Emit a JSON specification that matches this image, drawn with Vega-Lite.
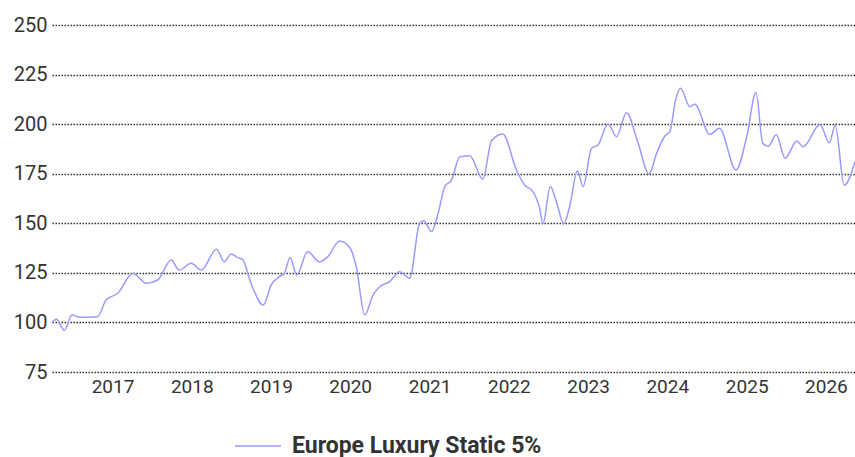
{
  "$schema": "https://vega.github.io/schema/vega-lite/v6.json",
  "width": 803,
  "height": 347,
  "autosize": {"type": "none"},
  "padding": {"left": 52, "top": 25, "right": 0, "bottom": 85},
  "background": "#ffffff",
  "config": {
    "view": {"stroke": null},
    "font": "Roboto"
  },
  "data": {
    "values": [
      {"date": "2016-03-28", "value": 100.0, "series": "Europe Luxury Static 5%"},
      {"date": "2016-04-18", "value": 101.6, "series": "Europe Luxury Static 5%"},
      {"date": "2016-05-24", "value": 96.0, "series": "Europe Luxury Static 5%"},
      {"date": "2016-06-28", "value": 103.8, "series": "Europe Luxury Static 5%"},
      {"date": "2016-08-01", "value": 102.6, "series": "Europe Luxury Static 5%"},
      {"date": "2016-10-24", "value": 102.9, "series": "Europe Luxury Static 5%"},
      {"date": "2016-12-02", "value": 111.3, "series": "Europe Luxury Static 5%"},
      {"date": "2017-01-25", "value": 114.7, "series": "Europe Luxury Static 5%"},
      {"date": "2017-04-05", "value": 124.8, "series": "Europe Luxury Static 5%"},
      {"date": "2017-06-05", "value": 119.8, "series": "Europe Luxury Static 5%"},
      {"date": "2017-07-28", "value": 121.4, "series": "Europe Luxury Static 5%"},
      {"date": "2017-09-28", "value": 131.5, "series": "Europe Luxury Static 5%"},
      {"date": "2017-11-04", "value": 126.4, "series": "Europe Luxury Static 5%"},
      {"date": "2017-12-29", "value": 129.8, "series": "Europe Luxury Static 5%"},
      {"date": "2018-02-14", "value": 126.4, "series": "Europe Luxury Static 5%"},
      {"date": "2018-04-25", "value": 136.9, "series": "Europe Luxury Static 5%"},
      {"date": "2018-05-31", "value": 130.6, "series": "Europe Luxury Static 5%"},
      {"date": "2018-07-01", "value": 134.5, "series": "Europe Luxury Static 5%"},
      {"date": "2018-07-31", "value": 132.7, "series": "Europe Luxury Static 5%"},
      {"date": "2018-08-23", "value": 131.8, "series": "Europe Luxury Static 5%"},
      {"date": "2018-10-01", "value": 119.7, "series": "Europe Luxury Static 5%"},
      {"date": "2018-11-27", "value": 108.8, "series": "Europe Luxury Static 5%"},
      {"date": "2019-01-02", "value": 118.9, "series": "Europe Luxury Static 5%"},
      {"date": "2019-02-09", "value": 123.1, "series": "Europe Luxury Static 5%"},
      {"date": "2019-03-04", "value": 124.8, "series": "Europe Luxury Static 5%"},
      {"date": "2019-03-30", "value": 132.7, "series": "Europe Luxury Static 5%"},
      {"date": "2019-04-30", "value": 123.9, "series": "Europe Luxury Static 5%"},
      {"date": "2019-06-19", "value": 135.7, "series": "Europe Luxury Static 5%"},
      {"date": "2019-08-12", "value": 130.6, "series": "Europe Luxury Static 5%"},
      {"date": "2019-09-20", "value": 133.2, "series": "Europe Luxury Static 5%"},
      {"date": "2019-11-13", "value": 141.1, "series": "Europe Luxury Static 5%"},
      {"date": "2019-12-29", "value": 137.9, "series": "Europe Luxury Static 5%"},
      {"date": "2020-01-29", "value": 128.1, "series": "Europe Luxury Static 5%"},
      {"date": "2020-03-08", "value": 103.8, "series": "Europe Luxury Static 5%"},
      {"date": "2020-04-15", "value": 113.8, "series": "Europe Luxury Static 5%"},
      {"date": "2020-05-16", "value": 118.0, "series": "Europe Luxury Static 5%"},
      {"date": "2020-07-01", "value": 120.6, "series": "Europe Luxury Static 5%"},
      {"date": "2020-08-16", "value": 125.6, "series": "Europe Luxury Static 5%"},
      {"date": "2020-10-01", "value": 122.3, "series": "Europe Luxury Static 5%"},
      {"date": "2020-11-16", "value": 150.0, "series": "Europe Luxury Static 5%"},
      {"date": "2020-12-04", "value": 151.3, "series": "Europe Luxury Static 5%"},
      {"date": "2021-01-10", "value": 145.8, "series": "Europe Luxury Static 5%"},
      {"date": "2021-02-09", "value": 155.0, "series": "Europe Luxury Static 5%"},
      {"date": "2021-03-12", "value": 168.5, "series": "Europe Luxury Static 5%"},
      {"date": "2021-04-12", "value": 171.8, "series": "Europe Luxury Static 5%"},
      {"date": "2021-05-20", "value": 183.6, "series": "Europe Luxury Static 5%"},
      {"date": "2021-07-05", "value": 184.0, "series": "Europe Luxury Static 5%"},
      {"date": "2021-09-03", "value": 172.2, "series": "Europe Luxury Static 5%"},
      {"date": "2021-10-13", "value": 191.5, "series": "Europe Luxury Static 5%"},
      {"date": "2021-12-04", "value": 195.0, "series": "Europe Luxury Static 5%"},
      {"date": "2022-02-05", "value": 176.9, "series": "Europe Luxury Static 5%"},
      {"date": "2022-03-15", "value": 169.3, "series": "Europe Luxury Static 5%"},
      {"date": "2022-04-22", "value": 166.0, "series": "Europe Luxury Static 5%"},
      {"date": "2022-05-23", "value": 157.6, "series": "Europe Luxury Static 5%"},
      {"date": "2022-06-07", "value": 149.7, "series": "Europe Luxury Static 5%"},
      {"date": "2022-07-11", "value": 168.5, "series": "Europe Luxury Static 5%"},
      {"date": "2022-08-08", "value": 160.9, "series": "Europe Luxury Static 5%"},
      {"date": "2022-09-11", "value": 149.7, "series": "Europe Luxury Static 5%"},
      {"date": "2022-10-08", "value": 158.4, "series": "Europe Luxury Static 5%"},
      {"date": "2022-11-13", "value": 176.5, "series": "Europe Luxury Static 5%"},
      {"date": "2022-12-09", "value": 168.5, "series": "Europe Luxury Static 5%"},
      {"date": "2023-01-17", "value": 187.8, "series": "Europe Luxury Static 5%"},
      {"date": "2023-02-16", "value": 189.5, "series": "Europe Luxury Static 5%"},
      {"date": "2023-04-03", "value": 200.1, "series": "Europe Luxury Static 5%"},
      {"date": "2023-05-12", "value": 193.7, "series": "Europe Luxury Static 5%"},
      {"date": "2023-06-27", "value": 205.8, "series": "Europe Luxury Static 5%"},
      {"date": "2023-08-20", "value": 190.3, "series": "Europe Luxury Static 5%"},
      {"date": "2023-10-09", "value": 174.9, "series": "Europe Luxury Static 5%"},
      {"date": "2023-11-13", "value": 185.3, "series": "Europe Luxury Static 5%"},
      {"date": "2023-12-21", "value": 194.0, "series": "Europe Luxury Static 5%"},
      {"date": "2024-01-13", "value": 196.2, "series": "Europe Luxury Static 5%"},
      {"date": "2024-02-08", "value": 212.0, "series": "Europe Luxury Static 5%"},
      {"date": "2024-03-02", "value": 218.1, "series": "Europe Luxury Static 5%"},
      {"date": "2024-04-14", "value": 208.8, "series": "Europe Luxury Static 5%"},
      {"date": "2024-05-07", "value": 210.0, "series": "Europe Luxury Static 5%"},
      {"date": "2024-07-15", "value": 194.8, "series": "Europe Luxury Static 5%"},
      {"date": "2024-08-28", "value": 197.9, "series": "Europe Luxury Static 5%"},
      {"date": "2024-11-13", "value": 176.9, "series": "Europe Luxury Static 5%"},
      {"date": "2025-01-01", "value": 193.7, "series": "Europe Luxury Static 5%"},
      {"date": "2025-02-13", "value": 215.9, "series": "Europe Luxury Static 5%"},
      {"date": "2025-03-16", "value": 190.3, "series": "Europe Luxury Static 5%"},
      {"date": "2025-04-10", "value": 188.8, "series": "Europe Luxury Static 5%"},
      {"date": "2025-05-17", "value": 194.6, "series": "Europe Luxury Static 5%"},
      {"date": "2025-06-27", "value": 182.8, "series": "Europe Luxury Static 5%"},
      {"date": "2025-08-20", "value": 191.5, "series": "Europe Luxury Static 5%"},
      {"date": "2025-09-18", "value": 188.6, "series": "Europe Luxury Static 5%"},
      {"date": "2025-12-05", "value": 199.8, "series": "Europe Luxury Static 5%"},
      {"date": "2026-01-17", "value": 190.6, "series": "Europe Luxury Static 5%"},
      {"date": "2026-02-13", "value": 199.5, "series": "Europe Luxury Static 5%"},
      {"date": "2026-03-26", "value": 169.2, "series": "Europe Luxury Static 5%"},
      {"date": "2026-05-15", "value": 181.1, "series": "Europe Luxury Static 5%"}
    ]
  },
  "mark": {"type": "line", "interpolate": "monotone", "strokeWidth": 1.5},
  "encoding": {
    "x": {
      "field": "date",
      "type": "temporal",
      "scale": {"domain": ["2016-03-28", "2026-05-15"]},
      "axis": {
        "title": null,
        "format": "%Y",
        "tickCount": {"interval": "year", "step": 1},
        "grid": false,
        "domain": false,
        "ticks": false,
        "labelPadding": 5,
        "labelFontSize": 19,
        "labelColor": "#333333",
        "labelFont": "Roboto"
      }
    },
    "y": {
      "field": "value",
      "type": "quantitative",
      "scale": {"domain": [75, 250], "nice": false, "zero": false},
      "axis": {
        "title": null,
        "values": [75, 100, 125, 150, 175, 200, 225, 250],
        "grid": true,
        "gridColor": "#333333",
        "gridDash": [1.5, 1.5],
        "gridWidth": 1.5,
        "gridOpacity": 1,
        "domain": false,
        "ticks": false,
        "labelPadding": 5,
        "labelFontSize": 20,
        "labelColor": "#333333",
        "labelFont": "Roboto"
      }
    },
    "color": {
      "field": "series",
      "type": "nominal",
      "scale": {"range": ["#9a9aff"]},
      "legend": {
        "title": null,
        "orient": "none",
        "legendX": 182,
        "legendY": 397,
        "symbolType": "stroke",
        "symbolSize": 2116,
        "symbolStrokeWidth": 1.5,
        "labelFontSize": 23,
        "labelFontWeight": "bold",
        "labelColor": "#333333",
        "labelFont": "Roboto",
        "labelOffset": 10,
        "labelLimit": 400
      }
    }
  }
}
